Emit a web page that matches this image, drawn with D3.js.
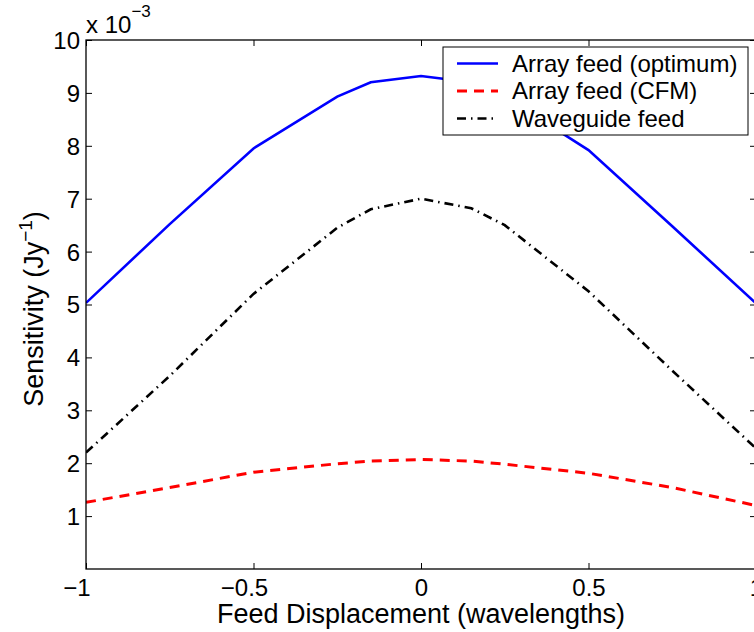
<!DOCTYPE html>
<html><head><meta charset="utf-8">
<script src="https://cdn.jsdelivr.net/npm/d3@7"></script>
<style>body{margin:0;background:#fff}svg{display:block}text{font-family:"Liberation Sans",Arial,sans-serif;fill:#000}</style>
</head><body><svg id="c" width="754" height="632"></svg>
<script>
const xVals = [-1, -0.75, -0.5, -0.25, -0.15, 0, 0.15, 0.25, 0.5, 0.75, 1];
const optimum = [5.03, 6.52, 7.95, 8.93, 9.2, 9.32, 9.2, 8.93, 7.92, 6.48, 5.02];
const cfm = [1.26, 1.54, 1.83, 1.99, 2.04, 2.07, 2.04, 1.98, 1.81, 1.54, 1.2];
const waveguide = [2.2, 3.65, 5.2, 6.45, 6.8, 7.0, 6.82, 6.5, 5.25, 3.75, 2.28];
const seriesNames = ["Array feed (optimum)", "Array feed (CFM)", "Waveguide feed"];
const xTicks = [-1, -0.5, 0, 0.5, 1];
const yTicks = [1, 2, 3, 4, 5, 6, 7, 8, 9, 10];

const svg = d3.select("#c");
const L = 86, R = 756, T = 40, B = 569;
const x = d3.scaleLinear().domain([-1, 1]).range([L, R]);
const y = d3.scaleLinear().domain([0, 10]).range([B, T]);
const fs = 24, fsLab = 27;

const styles = [
  {color: "#0000ff", dash: null, w: 2.6},
  {color: "#ff0000", dash: "10,7", w: 3},
  {color: "#000000", dash: "9,5,1.5,5", w: 2.6}
];
const data = [optimum, cfm, waveguide];
const line = d3.line().x(d => x(d[0])).y(d => y(d[1]));

svg.append("clipPath").attr("id", "pc").append("rect")
  .attr("x", L).attr("y", T).attr("width", R - L).attr("height", B - T);

data.forEach((vals, i) => {
  svg.append("path")
    .datum(xVals.map((v, j) => [v, vals[j]]))
    .attr("clip-path", "url(#pc)")
    .attr("d", line).attr("fill", "none")
    .attr("stroke", styles[i].color).attr("stroke-width", styles[i].w)
    .attr("stroke-dasharray", styles[i].dash);
});

// frame
svg.append("rect").attr("x", L).attr("y", T).attr("width", R - L).attr("height", B - T)
  .attr("fill", "none").attr("stroke", "#000").attr("stroke-width", 1.3);

// axes (ticks inward)
const fmt = v => (v < 0 ? "\u2212" : "") + Math.abs(v);
const gx = svg.append("g").attr("transform", `translate(0,${B})`)
  .call(d3.axisBottom(x).tickValues(xTicks).tickSizeInner(-6).tickSizeOuter(0).tickFormat(fmt));
const gxt = svg.append("g").attr("transform", `translate(0,${T})`)
  .call(d3.axisTop(x).tickValues(xTicks).tickSizeInner(-6).tickSizeOuter(0).tickFormat(""));
const gy = svg.append("g").attr("transform", `translate(${L},0)`)
  .call(d3.axisLeft(y).tickValues(yTicks).tickSizeInner(-6).tickSizeOuter(0).tickFormat(d => d));
const gyr = svg.append("g").attr("transform", `translate(${R},0)`)
  .call(d3.axisRight(y).tickValues(yTicks).tickSizeInner(-6).tickSizeOuter(0).tickFormat(""));
[gx, gxt, gy, gyr].forEach(g => {
  g.select(".domain").remove();
  g.selectAll("line").attr("stroke", "#000").attr("stroke-width", 1);
});
gx.selectAll("text").attr("font-size", fs).attr("font-family", null)
  .attr("y", 10).attr("dy", "0.71em").attr("fill", "#000")
  .attr("dx", d => d < 0 ? -9.5 : 0);
gy.selectAll("text").attr("font-size", fs).attr("font-family", null)
  .attr("x", -6).attr("dy", "0.35em").attr("fill", "#000");

// exponent label
const ex = svg.append("text").attr("x", 86).attr("y", 33).attr("font-size", fs);
ex.append("tspan").text("x 10");
ex.append("tspan").attr("font-size", 17).attr("dy", -16).text("\u22123");

// axis titles
svg.append("text").attr("x", 421).attr("y", 623).attr("text-anchor", "middle")
  .attr("font-size", fsLab).text("Feed Displacement (wavelengths)");
const yl = svg.append("text").attr("transform", "translate(43,309) rotate(-90)")
  .attr("text-anchor", "middle").attr("font-size", fsLab);
yl.append("tspan").text("Sensitivity (Jy");
yl.append("tspan").attr("font-size", 19).attr("dy", -11).text("\u22121");
yl.append("tspan").attr("dy", 11).text(")");

// legend
const lg = svg.append("g");
lg.append("rect").attr("x", 443).attr("y", 47).attr("width", 305).attr("height", 88)
  .attr("fill", "#fff").attr("stroke", "#000").attr("stroke-width", 1);
const rows = [63.5, 91, 118.5];
seriesNames.forEach((n, i) => {
  lg.append("line").attr("x1", 457).attr("x2", 498).attr("y1", rows[i]).attr("y2", rows[i])
    .attr("stroke", styles[i].color).attr("stroke-width", styles[i].w)
    .attr("stroke-dasharray", styles[i].dash);
  lg.append("text").attr("x", 512).attr("y", rows[i]).attr("dy", "0.35em")
    .attr("font-size", fs).text(n);
});
</script></body></html>
